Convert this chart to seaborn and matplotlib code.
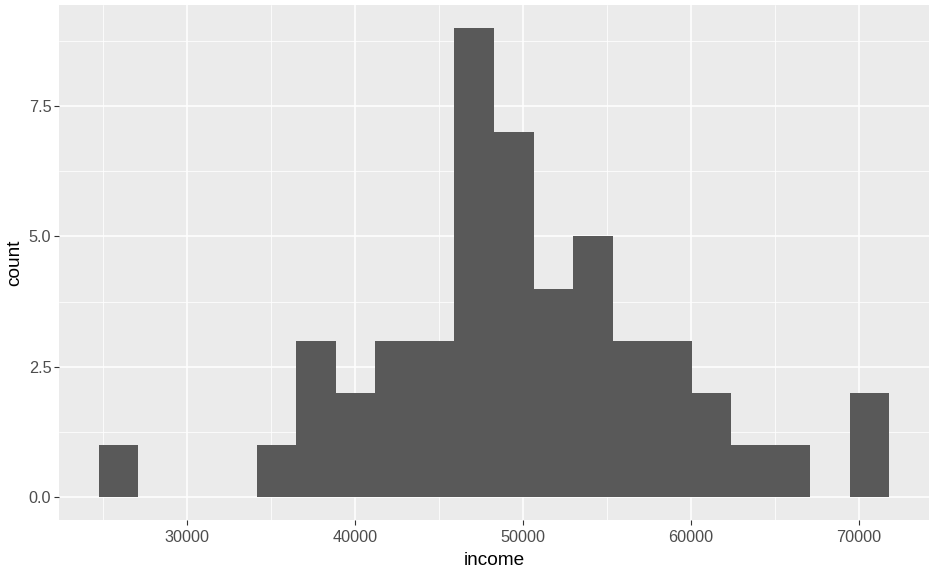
import numpy as np
import matplotlib
matplotlib.use("Agg")
import matplotlib.pyplot as plt
import seaborn as sns
from matplotlib.ticker import MultipleLocator

# bin edges (income) and counts, 20 bins
binEdges = [24735, 27090, 29445, 31800, 34155, 36510, 38865, 41220, 43575, 45930, 48285,
            50640, 52995, 55350, 57705, 60060, 62415, 64770, 67125, 69480, 71835]
binCounts = [1, 0, 0, 0, 1, 3, 2, 3, 3, 9, 7, 4, 5, 3, 3, 2, 1, 1, 0, 2]
xTicks = [30000, 40000, 50000, 60000, 70000]
yTicks = [0.0, 2.5, 5.0, 7.5]

sns.set_theme(style="darkgrid", rc={
    "axes.facecolor": "#EBEBEB",
    "grid.color": "white",
    "axes.edgecolor": "#EBEBEB",
})
plt.rcParams["font.family"] = ["Liberation Sans", "DejaVu Sans"]

edges = np.array(binEdges)
centers = (edges[:-1] + edges[1:]) / 2

fig = plt.figure(figsize=(9.35, 5.83), dpi=100)
ax = fig.add_axes([59 / 935, (583 - 520) / 583, 870 / 935, 515 / 583])

sns.histplot(x=centers, weights=binCounts, bins=binEdges, color="#595959",
             alpha=1, linewidth=0, edgecolor="none", ax=ax)

span = edges[-1] - edges[0]
ax.set_xlim(edges[0] - 0.05 * span, edges[-1] + 0.05 * span)
ax.set_ylim(-0.45, 9.45)
ax.set_xticks(xTicks)
ax.set_yticks(yTicks)
ax.set_yticklabels([f"{v:.1f}" for v in yTicks])
ax.xaxis.set_minor_locator(MultipleLocator(5000))
ax.yaxis.set_minor_locator(MultipleLocator(1.25))
ax.grid(which="major", color="white", linewidth=1.1)
ax.grid(which="minor", color="white", linewidth=0.55)
ax.set_axisbelow(True)
for s in ax.spines.values():
    s.set_visible(False)

ax.tick_params(axis="both", which="major", length=3.5, width=0.8, color="#333333",
               labelsize=11.7, labelcolor="#4D4D4D", pad=2, bottom=True, left=True)
ax.tick_params(axis="x", which="major", pad=4)
ax.tick_params(axis="both", which="minor", length=0)
ax.set_xlabel("income", fontsize=13.7, color="black", labelpad=5)
ax.set_ylabel("count", fontsize=13.7, color="black", labelpad=4)

fig.savefig("out.png", dpi=100)
